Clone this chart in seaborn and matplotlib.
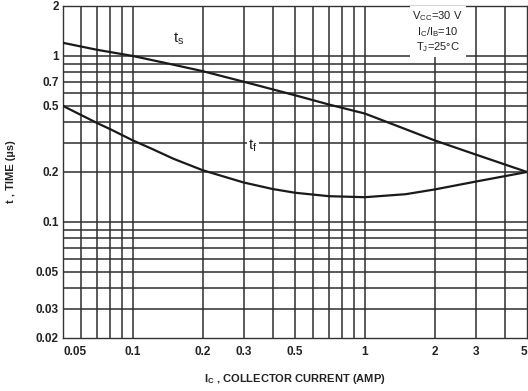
import matplotlib
matplotlib.use("Agg")
import matplotlib.pyplot as plt
import seaborn as sns
import pandas as pd

# Data (log-log chart)
ic_ts = [0.05, 0.07, 0.1, 0.15, 0.2, 0.3, 0.5, 0.7, 1.0, 1.5, 2.0, 3.0, 5.0]
t_s   = [1.2, 1.09, 1.0, 0.885, 0.81, 0.70, 0.58, 0.51, 0.45, 0.362, 0.31, 0.255, 0.2]

ic_tf = [0.05, 0.06, 0.07, 0.08, 0.1, 0.12, 0.15, 0.2, 0.3, 0.4, 0.5, 0.7, 1.0, 1.5, 2.0, 3.0, 5.0]
t_f   = [0.5, 0.44, 0.395, 0.362, 0.31, 0.277, 0.24, 0.205, 0.173, 0.158, 0.15, 0.143, 0.141, 0.147, 0.157, 0.175, 0.2]

x_ticks = [0.05, 0.1, 0.2, 0.3, 0.5, 1, 2, 3, 5]
x_tick_labels = ["0.05", "0.1", "0.2", "0.3", "0.5", "1", "2", "3", "5"]
y_ticks = [0.02, 0.03, 0.05, 0.1, 0.2, 0.5, 0.7, 1, 2]
y_tick_labels = ["0.02", "0.03", "0.05", "0.1", "0.2", "0.5", "0.7", "1", "2"]

x_grid = [0.06, 0.07, 0.08, 0.09, 0.1, 0.2, 0.3, 0.4, 0.5, 0.6, 0.7, 0.8, 0.9, 1, 2, 3, 4]
y_grid = [0.03, 0.04, 0.05, 0.06, 0.07, 0.08, 0.09, 0.1, 0.2, 0.3, 0.4, 0.5, 0.6, 0.7, 0.8, 0.9, 1]

df = pd.concat([
    pd.DataFrame({"ic": ic_ts, "t": t_s, "curve": "ts"}),
    pd.DataFrame({"ic": ic_tf, "t": t_f, "curve": "tf"}),
])

sns.set_style("white")
plt.rcParams["font.family"] = ["Liberation Sans", "DejaVu Sans"]

fig = plt.figure(figsize=(5.28, 3.91), dpi=100)
ax = fig.add_axes([63/528, 1-338/391, 464/528, 332/391])

for g in x_grid:
    ax.axvline(g, color="#2e2e2e", lw=1.1, zorder=1)
for g in y_grid:
    ax.axhline(g, color="#2e2e2e", lw=1.1, zorder=1)

sns.lineplot(data=df, x="ic", y="t", units="curve", estimator=None,
             color="#1a1a1a", lw=1.6, ax=ax, zorder=3, sort=True)

ax.set_xscale("log")
ax.set_yscale("log")
ax.set_xlim(0.05, 5)
ax.set_ylim(0.02, 2)

ax.set_xticks(x_ticks)
ax.set_xticklabels(x_tick_labels)
ax.set_yticks(y_ticks)
ax.set_yticklabels(y_tick_labels)
ax.minorticks_off()
ax.tick_params(axis="both", length=0, labelsize=8.5, colors="#222222")
ax.tick_params(axis="x", pad=6)
ax.tick_params(axis="y", pad=3)
for lab in ax.get_xticklabels() + ax.get_yticklabels():
    lab.set_fontweight("bold")
xl = ax.get_xticklabels()
xl[0].set_horizontalalignment("left")
xl[-1].set_horizontalalignment("right")

for s in ax.spines.values():
    s.set_color("#333333")
    s.set_linewidth(1.0)

ax.set_xlabel(r"I$_\mathregular{C}$ , COLLECTOR CURRENT (AMP)", fontsize=8,
              fontweight="bold", color="#222222", labelpad=10)
ax.set_ylabel("t , TIME (µs)", fontsize=8, fontweight="bold", color="#222222",
              labelpad=14)

ax.text(0.157, 1.28, r"t$_\mathregular{s}$", fontsize=11, color="#222222",
        ha="center", va="center", zorder=4)
ax.text(0.33, 0.29, r"t$_\mathregular{f}$", fontsize=11, color="#222222",
        ha="center", va="center", zorder=4,
        bbox=dict(facecolor="white", edgecolor="none", pad=1))

ax.text(2.06, 1.40,
        "V$_\\mathregular{CC}$=30 V\nI$_\\mathregular{C}$/I$_\\mathregular{B}$=10\nT$_\\mathregular{J}$=25°C",
        fontsize=8, color="#222222", ha="center", va="center",
        linespacing=1.2, zorder=4,
        bbox=dict(facecolor="white", edgecolor="none", pad=2))

fig.savefig("out.png", dpi=100)
